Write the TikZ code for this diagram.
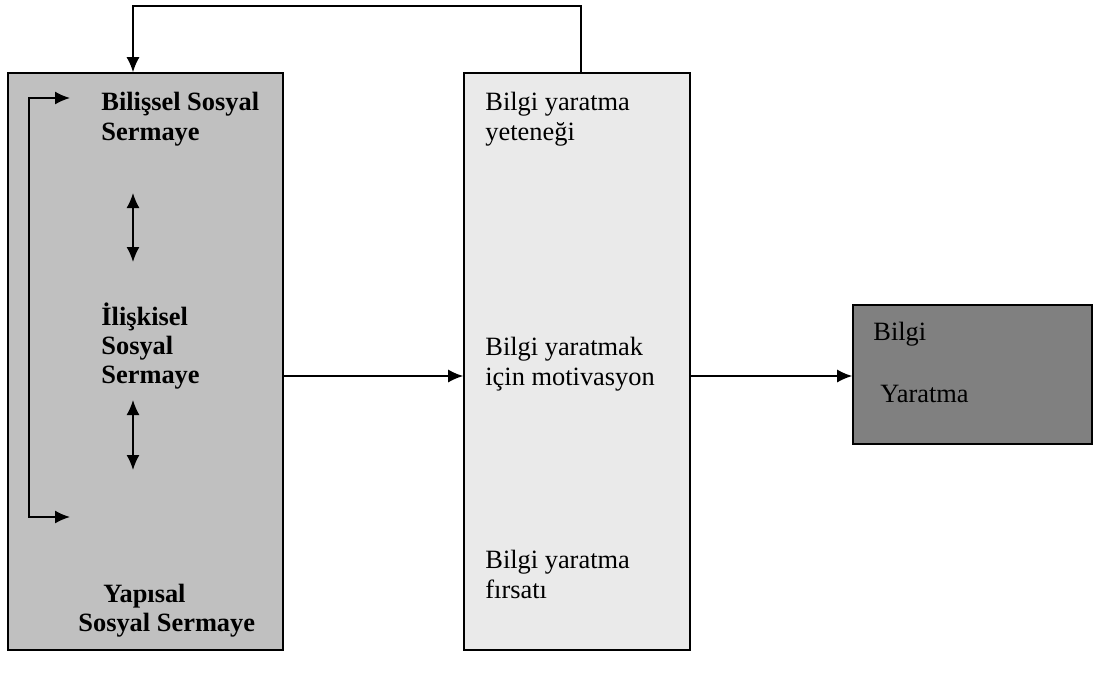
\documentclass[tikz,border=0pt]{standalone}
\usepackage{fontspec}
\setmainfont{Liberation Serif}
\usetikzlibrary{arrows.meta}
\definecolor{boxleft}{HTML}{C0C0C0}
\definecolor{boxmid}{HTML}{EAEAEA}
\definecolor{boxright}{HTML}{808080}
\begin{document}
\begin{tikzpicture}[x=0.5pt,y=-0.5pt,
  panel/.style={draw=black,line width=0.8pt,inner sep=0pt,minimum width=#1},
  lbl/.style={anchor=base west,inner sep=0pt,font=\fontsize{13.2}{15}\selectfont},
  blbl/.style={lbl,font=\fontsize{13.2}{15}\selectfont\bfseries},
  conn/.style={line width=0.8pt,-{Latex[length=7.5pt,width=6.5pt]}},
  bothconn/.style={line width=0.8pt,{Latex[length=7.5pt,width=6.5pt]}-{Latex[length=7.5pt,width=6.5pt]}}]
\useasboundingbox (0,0) rectangle (1094,677);

% three panels
\node[panel=137.5pt,fill=boxleft,minimum height=288.5pt] (left) at (145.5,361.5) {};
\node[panel=113pt,fill=boxmid,minimum height=288.5pt] (mid) at (577,361.5) {};
\node[panel=119.5pt,fill=boxright,minimum height=69.5pt] (right) at (972.5,374.5) {};

% labels of the left panel
\node[blbl] (l1a) at (101,110) {Bilişsel Sosyal};
\node[blbl] (l1b) at (101,140) {Sermaye};
\node[blbl] (l2a) at (101,325) {İlişkisel};
\node[blbl] (l2b) at (101,354) {Sosyal};
\node[blbl] (l2c) at (101,383) {Sermaye};
\node[blbl] (l3a) at (103,602) {Yapısal};
\node[blbl] (l3b) at (78,631) {Sosyal Sermaye};

% labels of the middle panel
\node[lbl] (m1a) at (485,110) {Bilgi yaratma};
\node[lbl] (m1b) at (485,140) {yeteneği};
\node[lbl] (m2a) at (485,355) {Bilgi yaratmak};
\node[lbl] (m2b) at (485,385) {için motivasyon};
\node[lbl] (m3a) at (485,568) {Bilgi yaratma};
\node[lbl] (m3b) at (485,598) {fırsatı};

% labels of the right panel
\node[lbl] (r1) at (873,340) {Bilgi};
\node[lbl] (r2) at (880,402) {Yaratma};

% feedback loop over the top
\coordinate (fbR) at (581,6);
\coordinate (fbL) at (133,6);
\draw[conn] (fbR |- mid.north) -- (fbR) -- (fbL) -- (fbL |- left.north);

% loop inside the left panel
\coordinate (lpTtip) at (70,98);
\coordinate (lpT) at (29,98);
\coordinate (lpB) at (29,517);
\coordinate (lpBtip) at (70,517);
\draw[bothconn] (lpTtip) -- (lpT) -- (lpB) -- (lpBtip);

% two-way arrows between the capital dimensions
\coordinate (d1t) at (133,193);
\coordinate (d1b) at (133,262);
\coordinate (d2t) at (133,400);
\coordinate (d2b) at (133,470);
\draw[bothconn] (d1t) -- (d1b);
\draw[bothconn] (d2t) -- (d2b);

% main flow
\draw[conn] (left.east |- 0,376) -- (mid.west |- 0,376);
\draw[conn] (mid.east |- 0,376) -- (right.west |- 0,376);
\end{tikzpicture}
\end{document}
